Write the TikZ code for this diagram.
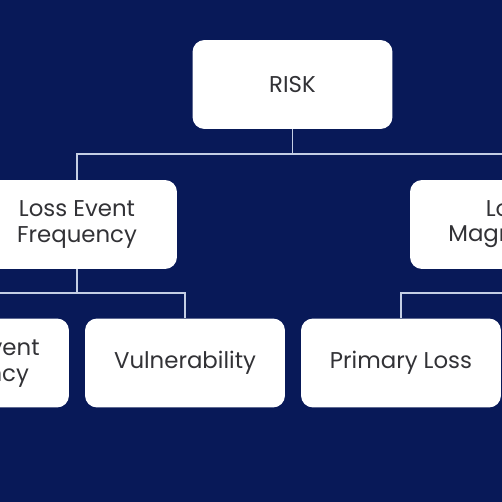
\documentclass[tikz,border=0pt]{standalone}
\usepackage{fontspec}
\setmainfont{Poppins}

\definecolor{navy}{RGB}{8,25,88}
\definecolor{linkgray}{RGB}{196,206,228}
\definecolor{textgray}{RGB}{50,50,54}

\tikzset{
  box/.style={draw=none,fill=white,rounded corners=0.24cm,minimum width=4cm,
    minimum height=1.78cm,align=center,text=textgray,
    font=\fontsize{13}{14.3}\selectfont},
  link/.style={draw=linkgray,line width=1pt}
}

\begin{document}
\begin{tikzpicture}[x=0.02cm,y=-0.02cm]
      % Background
      \fill[navy] (0,0) rectangle (502,502);
      \useasboundingbox (0,0) rectangle (502,502);

      % Top level
      \node[box] (risk) at (292.5,84.5) {RISK};

      % Second level
      \node[box] (lef) at (77,224.5) {Loss Event\\Frequency};
      \node[box] (lm) at (510,224.5) {Loss\\Magnitude};

      % Third level
      \node[box] (tef) at (-31,363) {Threat Event\\Frequency};
      \node[box] (vuln) at (185,363) {Vulnerability};
      \node[box] (ploss) at (401,363) {Primary Loss};

      % Connectors
      \coordinate (rj) at (292.5,154);
      \draw[link] (risk.south) -- (rj);
      \draw[link] (rj) -| (lef.north);
      \draw[link] (rj) -| (lm.north);

      \coordinate (lj) at (77,293);
      \draw[link] (lef.south) -- (lj);
      \draw[link] (lj) -| (tef.north);
      \draw[link] (lj) -| (vuln.north);

      \coordinate (mj) at (510,293);
      \coordinate (send) at (620,293);
      \draw[link] (lm.south) -- (mj);
      \draw[link] (mj) -| (ploss.north);
      \draw[link] (mj) -- (send);

\end{tikzpicture}
\end{document}
